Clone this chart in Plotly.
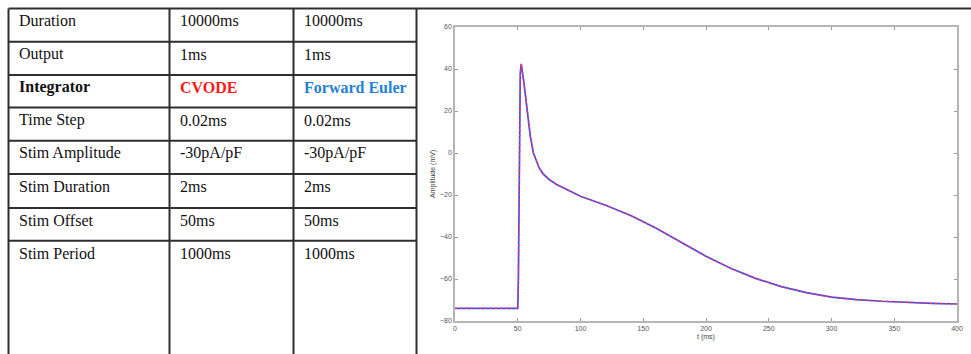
import plotly.graph_objects as go

W, H = 971, 354

# ---------------- data ----------------
row_labels = ["Duration", "Output", "Integrator", "Time Step", "Stim Amplitude",
              "Stim Duration", "Stim Offset", "Stim Period"]
cvode_col = ["10000ms", "1ms", "CVODE", "0.02ms", "-30pA/pF", "2ms", "50ms", "1000ms"]
euler_col = ["10000ms", "1ms", "Forward Euler", "0.02ms", "-30pA/pF", "2ms", "50ms", "1000ms"]

t_ms = [0, 50, 50.5, 51, 51.5, 52, 52.8, 53.5, 55, 56, 58.5, 60, 62.5, 65, 67, 70, 75, 81,
        90, 100, 120, 140, 160, 180, 200, 220, 240, 260, 280, 300, 320, 340, 360, 380, 400]
cvode_v = [-74, -74, -60, -20, 20, 38, 42.4, 40, 33, 28, 14, 8, 0, -4, -7, -9.8, -12.6, -15,
           -17.8, -20.6, -24.9, -29.8, -35.7, -42.4, -49.2, -55, -59.8, -63.6, -66.5, -68.6,
           -69.8, -70.6, -71.2, -71.6, -71.9]
euler_v = [-74, -74, -60, -20, 20, 38, 42.4, 40, 33, 28, 14, 8, 0, -4, -7, -9.8, -12.6, -15,
           -17.8, -20.6, -24.9, -29.8, -35.7, -42.4, -49.2, -55, -59.8, -63.6, -66.5, -68.6,
           -69.8, -70.6, -71.2, -71.6, -71.9]

x_ticks = [0, 50, 100, 150, 200, 250, 300, 350, 400]
y_ticks = [-80, -60, -40, -20, 0, 20, 40, 60]


def px(x):
    return x / W


def py(y):
    return 1 - y / H


fig = go.Figure()
fig.add_trace(go.Scatter(x=t_ms, y=euler_v, mode="lines", name="Forward Euler",
                         line=dict(color="rgb(70,70,255)", width=1.7)))
fig.add_trace(go.Scatter(x=t_ms, y=cvode_v, mode="lines", name="CVODE",
                         line=dict(color="rgb(255,60,60)", width=1.4, dash="2px,3px")))

# ---------------- table ----------------
col_x = [8.5, 169.5, 293.5, 416.5]
row_y = [8.5, 41.7, 75, 107.5, 140.7, 174, 208, 240.7]
line_c = "#2e2e2e"
shapes = []
shapes.append(dict(type="line", xref="paper", yref="paper", x0=px(col_x[0]), x1=1,
                   y0=py(row_y[0]), y1=py(row_y[0]), line=dict(color=line_c, width=2)))
for ry in row_y[1:]:
    shapes.append(dict(type="line", xref="paper", yref="paper", x0=px(col_x[0]), x1=px(col_x[-1]),
                       y0=py(ry), y1=py(ry), line=dict(color=line_c, width=2)))
for cx in col_x:
    shapes.append(dict(type="line", xref="paper", yref="paper", x0=px(cx), x1=px(cx),
                       y0=py(row_y[0]), y1=0, line=dict(color=line_c, width=2)))

annotations = []
text_x = [17, 178, 302]
serif = "Liberation Serif, Times New Roman, serif"
for i, (a, b, c) in enumerate(zip(row_labels, cvode_col, euler_col)):
    yc = row_y[i] + 12.5
    bold = a == "Integrator"
    colors = ["#111111", "#111111", "#111111"]
    if bold:
        colors = ["#111111", "#ff1a1a", "#2680d4"]
    for k, txt in enumerate([a, b, c]):
        annotations.append(dict(xref="paper", yref="paper", x=px(text_x[k]), y=py(yc),
                                xanchor="left", yanchor="middle", showarrow=False,
                                text=f"<b>{txt}</b>" if bold else txt,
                                font=dict(family=serif, size=16, color=colors[k])))

annotations.append(dict(xref="paper", yref="paper", x=px(706), y=py(337), showarrow=False,
                        text="t (ms)", font=dict(family="Arial, Liberation Sans", size=7, color="#444"),
                        xanchor="center", yanchor="middle"))
annotations.append(dict(xref="paper", yref="paper", x=px(433), y=py(174), showarrow=False,
                        text="Amplitude (mV)", textangle=-90,
                        font=dict(family="Arial, Liberation Sans", size=7, color="#444"),
                        xanchor="center", yanchor="middle"))

axis_common = dict(showgrid=False, zeroline=False, showline=True, mirror="ticks",
                   linecolor="#b5b5b5", linewidth=1.5, ticks="inside", ticklen=3,
                   tickcolor="#9a9a9a", tickwidth=1, automargin=False,
                   tickfont=dict(family="Arial, Liberation Sans", size=7, color="#555"))

fig.update_layout(
    template="none",
    width=W, height=H, margin=dict(l=0, r=0, t=0, b=0, pad=0, autoexpand=False),
    paper_bgcolor="white", plot_bgcolor="white", showlegend=False,
    xaxis=dict(domain=[px(455), px(957)], range=[0, 400], tickvals=x_ticks, **axis_common),
    yaxis=dict(domain=[py(321), py(27)], range=[-80, 60], tickvals=y_ticks, **axis_common),
    shapes=shapes, annotations=annotations,
)

fig.write_html("out.html")
